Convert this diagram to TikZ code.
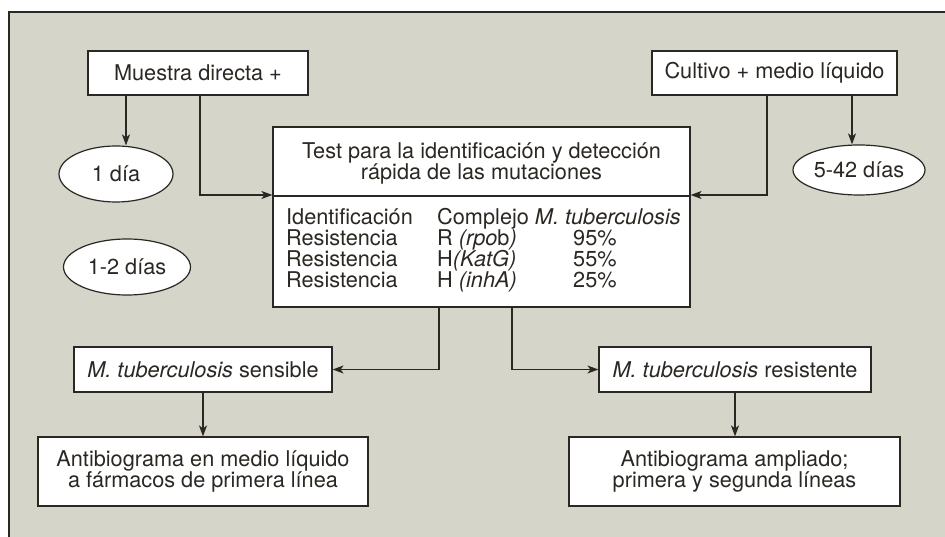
\documentclass[tikz,border=0pt]{standalone}
\usepackage{fontspec}
\setmainfont{TeX Gyre Heros}
\usetikzlibrary{shapes.geometric,arrows.meta}
\definecolor{bg}{HTML}{D5D5C9}
\definecolor{ink}{HTML}{2B2722}
\begin{document}
\begin{tikzpicture}[x=1pt,y=-1pt,
  font=\fontsize{21.7}{21}\selectfont, text=ink,
  box/.style={draw=ink, fill=white, line width=1.2pt, inner sep=0pt, align=center},
  oval/.style={ellipse, draw=ink, fill=white, line width=1.2pt, inner sep=0pt},
  conn/.style={draw=ink, line width=1.2pt, -{Stealth[length=11pt,width=8pt,inset=3pt]}},
  cell/.style={anchor=base west, inner sep=0pt}]
\useasboundingbox (0,0) rectangle (945,537);
\fill[white] (0,0) rectangle (945,537);
\fill[bg] (9,12) rectangle (945,537);
\draw[ink, line width=1.2pt] (9,537) -- (9,12) -- (945,12);

% top boxes
\node[box, minimum width=220pt, minimum height=44pt] (muestra) at (198,73) {Muestra directa +};
\node[box, minimum width=245pt, minimum height=44pt] (cultivo) at (774.5,73) {Cultivo + medio líquido};

% ovals
\node[oval, minimum width=114pt, minimum height=56pt] (dia1) at (116,174) {1 día};
\node[oval, minimum width=132pt, minimum height=50pt] (dia542) at (859,170) {5-42 días};
\node[oval, minimum width=127pt, minimum height=56pt] (dia12) at (127,267) {1-2 días};

% test box
\node[box, minimum width=417pt, minimum height=180pt] (test) at (481.5,217) {};
\draw[ink, line width=1.2pt] (test.west |- 0,196) -- (test.east |- 0,196);
\node[align=center, inner sep=0pt] (title) at (481.5,163) {Test para la identificación y detección\\rápida de las mutaciones};
\node[cell] (r1a) at (286,225) {Identificación};
\node[cell] (r1b) at (437,225) {Complejo \textit{M. tuberculosis}};
\node[cell] (r2a) at (286,246) {Resistencia};
\node[cell] (r2b) at (437,246) {R \textit{(rpo}b\textit{)}};
\node[cell] (r2c) at (573,246) {95\%};
\node[cell] (r3a) at (286,267) {Resistencia};
\node[cell] (r3b) at (437,267) {H\textit{(KatG)}};
\node[cell] (r3c) at (573,267) {55\%};
\node[cell] (r4a) at (286,288) {Resistencia};
\node[cell] (r4b) at (437,288) {H \textit{(inhA)}};
\node[cell] (r4c) at (573,288) {25\%};

% result boxes
\node[box, minimum width=258pt, minimum height=45pt] (sens) at (203,369.5) {\textit{M. tuberculosis} sensible};
\node[box, minimum width=272pt, minimum height=45pt] (resi) at (735,369.5) {\textit{M. tuberculosis} resistente};
\node[box, minimum width=330pt, minimum height=69pt] (anti1) at (203,471.5) {Antibiograma en medio líquido\\a fármacos de primera línea};
\node[box, minimum width=331pt, minimum height=69pt] (anti2) at (734.5,471.5) {Antibiograma ampliado;\\primera y segunda líneas};

% connectors
\draw[conn] (muestra.south -| 126,0) -- (dia1.north -| 126,0);
\draw[conn] (muestra.south -| 200,0) |- (test.west |- 0,195);
\draw[conn] (cultivo.south -| 852,0) -- (dia542.north -| 852,0);
\draw[conn] (cultivo.south -| 767,0) |- (test.east |- 0,195);
\draw[conn] (test.south -| 439,0) |- (sens.east);
\draw[conn] (test.south -| 512,0) |- (resi.west);
\draw[conn] (sens) -- (anti1);
\draw[conn] (resi.south) -- (resi.south |- anti2.north);
\end{tikzpicture}
\end{document}
